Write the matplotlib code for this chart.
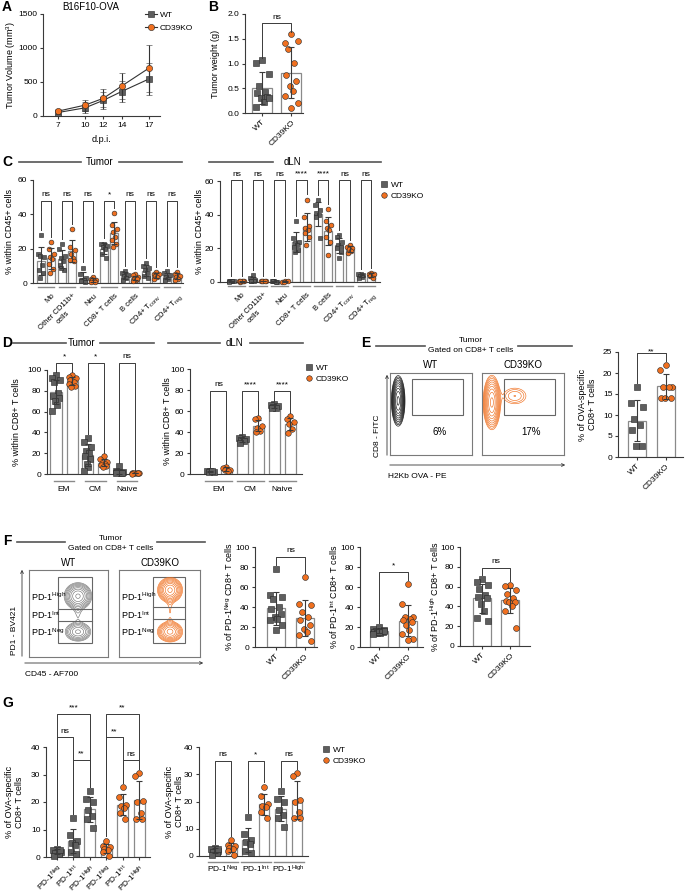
import numpy as np
import matplotlib
matplotlib.use('Agg')
import matplotlib.pyplot as plt
import matplotlib.ticker as mticker
from matplotlib.lines import Line2D
from matplotlib.patches import Rectangle, FancyArrowPatch

plt.rcParams['font.family'] = ['Liberation Sans', 'DejaVu Sans']
plt.rcParams['font.size'] = 6
plt.rcParams['mathtext.default'] = 'regular'
plt.rcParams['axes.linewidth'] = 0.8
plt.rcParams['axes.edgecolor'] = '#3a3a3a'
plt.rcParams['xtick.color'] = '#3a3a3a'
plt.rcParams['ytick.color'] = '#3a3a3a'
plt.rcParams['xtick.labelcolor'] = 'black'
plt.rcParams['ytick.labelcolor'] = 'black'
plt.rcParams['xtick.major.size'] = 2.5
plt.rcParams['ytick.major.size'] = 2.5
plt.rcParams['xtick.major.width'] = 0.8
plt.rcParams['ytick.major.width'] = 0.8
plt.rcParams['xtick.major.pad'] = 1.5
plt.rcParams['ytick.major.pad'] = 1.5
plt.rcParams['axes.labelpad'] = 2

# ---------------- data ----------------
days = [7, 10, 12, 14, 17]
vol_wt = [50, 120, 230, 360, 545]
vol_wt_sd = [30, 80, 120, 160, 235]
vol_ko = [70, 160, 260, 440, 705]
vol_ko_sd = [35, 80, 130, 190, 345]

weight_wt = [1.07, 1.02, 0.78, 0.55, 0.42, 0.40, 0.32, 0.30, 0.22, 0.13, 0.30]
weight_ko = [1.59, 1.41, 1.46, 1.29, 1.01, 0.77, 0.64, 0.54, 0.44, 0.34, 0.20, 0.10]

c_labels = ['Mo', 'Other CD11b+\ncells', 'Neu', 'CD8+ T cells', 'B cells',
            'CD4+ T$_{conv}$', 'CD4+ T$_{reg}$']
c_tumor_wt = [[28, 17, 15, 15.5, 10.6, 7.7, 5.8, 2.9],
              [22.8, 20, 15.5, 14.5, 12.6, 10.6, 7.7, 9],
              [9, 5, 3, 2, 1.5, 1, 0.8],
              [23, 22.5, 21.5, 21, 20, 17, 14.5],
              [6.8, 5.8, 4.8, 3.9, 2.9, 1.9],
              [11.6, 9.7, 8.7, 7.7, 5.8, 3.9, 2.9],
              [6.8, 5.8, 4.4, 3.5, 2.5, 1.5]]
c_tumor_ko = [[24, 20, 17, 15, 14, 11, 8, 6],
              [31.5, 21, 19, 17, 14.5, 13.5, 13],
              [3.5, 2.5, 1.9, 1.5, 1.0, 0.6, 0.8],
              [40.5, 34, 31.5, 30, 27, 25, 23, 21],
              [5, 4.4, 3.5, 2.5, 1.9, 1.0, 2.2],
              [6.2, 5.5, 5, 4.3, 3.3, 2.5],
              [6.2, 5.2, 4.3, 3.3, 2.5, 1.9]]
c_tumor_sig = ['ns', 'ns', 'ns', '*', 'ns', 'ns', 'ns']
c_dln_wt = [[0.6, 0.5, 0.4, 0.3, 0.5, 0.2],
            [4, 2.4, 1.4, 0.8, 0.4, 0.6],
            [0.3, 0.3, 0.2, 0.3, 0.2],
            [36.4, 26, 24, 23, 22, 21, 19, 18],
            [48.6, 45.6, 43, 41, 40, 38.4, 26],
            [28, 27, 24, 22, 21, 20, 18, 14],
            [5, 4.5, 4, 3.5, 3, 2.5]]
c_dln_ko = [[0.4, 0.3, 0.3, 0.2, 0.4, 0.3],
            [0.6, 0.5, 0.4, 0.3, 0.4],
            [0.3, 0.2, 0.3, 0.2],
            [49, 38.8, 33, 32, 31, 29, 27, 22],
            [43.3, 36, 34, 32, 31, 27, 24, 16],
            [22, 21, 20, 19.5, 18.5, 17],
            [5.5, 5, 4.5, 3.5, 2.5]]
c_dln_sig = ['ns', 'ns', 'ns', '****', '****', 'ns', 'ns']

d_labels = ['EM', 'CM', 'Naive']
d_tumor_wt = [[95, 92, 90, 88, 78, 75, 73, 70, 66, 61],
              [35, 31, 26, 22, 20, 17, 14, 10, 7, 3],
              [8, 3, 2, 1.5, 1, 1, 0.5]]
d_tumor_ko = [[95, 93, 92, 90, 88, 87, 85, 84],
              [17, 14, 12, 11, 10, 9, 8, 7],
              [1, 0.8, 0.6, 0.5, 0.7, 0.4, 0.9]]
d_tumor_sig = ['*', '*', 'ns']
d_dln_wt = [[3, 2.5, 2, 1.5, 2.8],
            [35, 34, 33, 32, 31, 30],
            [67, 65.5, 64.5, 64, 63, 63]]
d_dln_ko = [[7, 5.5, 4, 3.5, 3],
            [53, 52, 46, 44, 41, 40],
            [55, 52, 50, 48, 43, 39]]
d_dln_sig = ['ns', '****', '****']

e_wt = [16.6, 12.8, 11.8, 9, 7.6, 6.4, 2.6, 2.6]
e_ko = [21.8, 20.8, 16.6, 16.6, 16.6, 14, 14, 14]
e_sig = '**'
e_pct = ['6%', '17%']

f_subsets = ['Neg', 'Int', 'High']
f_wt = [[78, 52, 50, 48, 40, 38, 33, 30, 28, 27, 22, 17],
        [20, 18, 17, 16, 16, 15, 15, 14, 14, 13, 16, 15],
        [68, 65, 62, 58, 52, 50, 48, 42, 35, 28, 25]]
f_ko = [[70, 43, 42, 35, 30, 27, 22, 18, 15, 12, 6],
        [63, 43, 30, 30, 28, 27, 25, 22, 17, 13, 8, 7],
        [62, 61, 57, 53, 48, 45, 44, 44, 40, 35, 18]]
f_sig = ['ns', '*', 'ns']

g_wt = [[3, 2.5, 2, 1.5, 1, 0.5, 2.5],
        [14.3, 8, 6, 5, 4.5, 2, 1],
        [24, 21, 20, 17, 15, 14, 10.5]]
g_ko = [[6, 4, 3.5, 3, 2.5, 2, 0.5],
        [25.5, 22, 19, 18.5, 18, 16, 14],
        [30.5, 29.5, 20.5, 20, 16, 14, 14]]
g_left_pairs = [(0, 2, '***'), (0, 1, 'ns'), (1, 2, '**'),
                (3, 5, '**'), (3, 4, '**'), (4, 5, 'ns')]
g_right_sig = ['ns', '*', 'ns']

# flow plot blobs: (cx, cy, sx, sy, amplitude) in box units
e_wt_blobs = [(0.10, 0.66, 0.035, 0.13, 1.0)]
e_ko_blobs = [(0.12, 0.64, 0.045, 0.14, 1.0), (0.40, 0.72, 0.10, 0.07, 0.15)]
f_wt_blobs = [(0.62, 0.70, 0.085, 0.075, 1.0), (0.62, 0.29, 0.09, 0.06, 0.6),
              (0.62, 0.50, 0.04, 0.08, 0.12)]
f_ko_blobs = [(0.63, 0.77, 0.075, 0.07, 1.0), (0.63, 0.29, 0.08, 0.06, 0.8),
              (0.63, 0.53, 0.03, 0.13, 0.12)]

WT_C = '#5e5e5e'
KO_C = '#f07020'
EDGE = '#262626'
BAR_E = '#8a8a8a'
ERR_C = '#3a3a3a'
HEAD_C = '#555555'

W, H = 687, 893
fig = plt.figure(figsize=(W / 100, H / 100), dpi=100)


def px_axes(x0, y0, x1, y1):
    ax = fig.add_axes([x0 / W, 1 - y1 / H, (x1 - x0) / W, (y1 - y0) / H])
    ax.spines[['top', 'right']].set_visible(False)
    return ax


def ylab(ax, text, xpx, fs=6.5):
    # xpx: right edge of the rotated label, in figure pixels
    ax.set_ylabel(text, fontsize=fs)
    bb = ax.get_position()
    ax.yaxis.set_label_coords((xpx / W - bb.x0) / bb.width, 0.5)


def ftext(x, y, s, **kw):
    kw.setdefault('ha', 'center')
    kw.setdefault('va', 'center')
    fig.text(x / W, 1 - y / H, s, **kw)


def fline(x0, x1, y, lw=1.2, color=HEAD_C):
    fig.add_artist(Line2D([x0 / W, x1 / W], [1 - y / H, 1 - y / H],
                          color=color, lw=lw))


def farrow(x0, y0, x1, y1):
    fig.add_artist(FancyArrowPatch((x0 / W, 1 - y0 / H), (x1 / W, 1 - y1 / H),
                                   transform=fig.transFigure, arrowstyle='->',
                                   mutation_scale=5, lw=0.6, color='#333'))


def spread(n, width):
    pattern = np.array([0, -1, 1, -0.5, 0.5, -0.8, 0.8, -0.25, 0.25, -1, 1, 0])
    return pattern[np.arange(n) % len(pattern)] * width


def dot_bar(ax, x, vals, color, marker, width, ms):
    vals = np.asarray(vals, float)
    m, s = vals.mean(), vals.std(ddof=1)
    ax.bar(x, m, width=width, facecolor='white', edgecolor=BAR_E,
           linewidth=0.9, zorder=1)
    ax.scatter(x + spread(len(vals), width * 0.32), vals, s=ms, marker=marker,
               facecolor=color, edgecolor=EDGE, linewidth=0.4, zorder=3,
               clip_on=False)
    ax.errorbar(x, m, yerr=s, fmt='none', ecolor=ERR_C, elinewidth=0.8,
                capsize=2, capthick=0.8, zorder=4)
    return max(vals.max(), m + s)


def bracket(ax, x1, x2, top, y1, y2, label, pad, fs=6):
    ax.plot([x1, x1, x2, x2], [y1, top, top, y2], color='#3a3a3a', lw=0.7,
            clip_on=False, zorder=5)
    ax.text((x1 + x2) / 2, top + pad, label, ha='center', va='bottom',
            fontsize=fs, clip_on=False)


def grouped(ax, wt_groups, ko_groups, sig, off, width, ms, top, pad, gap):
    for i, (w, k, s) in enumerate(zip(wt_groups, ko_groups, sig)):
        hw = dot_bar(ax, i - off, w, WT_C, 's', width, ms)
        hk = dot_bar(ax, i + off, k, KO_C, 'o', width, ms)
        bracket(ax, i - off, i + off, top, hw + gap, hk + gap, s, pad)
    ax.set_xticks([])


def group_labels(ax, labels, half, line_y, text_y, rot=0, dx=0.0):
    trans = ax.get_xaxis_transform()
    for i, lab in enumerate(labels):
        ax.plot([i - half, i + half], [line_y, line_y], transform=trans,
                color='#8a8a8a', lw=1.0, clip_on=False)
        if rot:
            ax.text(i + dx, text_y, lab, transform=trans, rotation=rot,
                    ha='right', va='top', rotation_mode='anchor',
                    multialignment='center', fontsize=5.5)
        else:
            ax.text(i, text_y, lab, transform=trans, ha='center', va='center',
                    fontsize=6)


def legend_at(ax, x, y):
    handles = [Line2D([], [], marker='s', ls='None', mfc=WT_C, mec=EDGE,
                      mew=0.4, ms=4),
               Line2D([], [], marker='o', ls='None', mfc=KO_C, mec=EDGE,
                      mew=0.4, ms=4)]
    ax.legend(handles, ['WT', 'CD39KO'], loc='upper left',
              bbox_to_anchor=(x / W, 1 - y / H), bbox_transform=fig.transFigure,
              frameon=False, handlelength=0.8, handletextpad=0.4, fontsize=6,
              borderaxespad=0, borderpad=0, labelspacing=0.35)


def flow_box(rect, blobs, color, levels):
    x0, y0, x1, y1 = rect
    ax = fig.add_axes([x0 / W, 1 - y1 / H, (x1 - x0) / W, (y1 - y0) / H])
    gx, gy = np.meshgrid(np.linspace(0, 1, 260), np.linspace(0, 1, 260))
    z = np.zeros_like(gx)
    for cx, cy, sx, sy, a in blobs:
        z += a * np.exp(-((gx - cx) ** 2 / (2 * sx ** 2) + (gy - cy) ** 2 / (2 * sy ** 2)))
    ax.contour(gx, gy, z, levels=levels, colors=color, linewidths=0.45)
    ax.set_xlim(0, 1)
    ax.set_ylim(0, 1)
    ax.set_xticks([])
    ax.set_yticks([])
    for sp in ax.spines.values():
        sp.set_color('#7a7a7a')
        sp.set_linewidth(0.8)
    return ax


def two_bar(rect, xlim, wt, ko, ylim, yticks, ylabel, label_x, sig, top, pad,
            gap, ms=18, width=0.62):
    ax = px_axes(*rect)
    hw = dot_bar(ax, 0, wt, WT_C, 's', width, ms)
    hk = dot_bar(ax, 1, ko, KO_C, 'o', width, ms)
    bracket(ax, 0, 1, top, hw + gap, hk + gap, sig, pad)
    ax.set_xlim(*xlim)
    ax.set_ylim(*ylim)
    ax.set_yticks(yticks)
    ax.set_xticks([0, 1])
    ax.set_xticklabels(['WT', 'CD39KO'], rotation=45, ha='right',
                       rotation_mode='anchor', fontsize=6)
    ylab(ax, ylabel, label_x)
    return ax


# ---------------- panel letters ----------------
for letter, (x, y) in {'A': (7, 7), 'B': (213, 7), 'C': (7, 162), 'D': (7, 343),
                       'E': (366, 343), 'F': (7, 541), 'G': (8, 703)}.items():
    ftext(x, y, letter, fontsize=10, fontweight='bold')

# ---------------- A ----------------
ax = px_axes(43, 14, 160, 116)
ax.errorbar(days, vol_wt, yerr=vol_wt_sd, color='#333', marker='s', mfc=WT_C,
            mec=EDGE, mew=0.4, ms=4.5, lw=0.8, capsize=2, elinewidth=0.8, zorder=3)
ax.errorbar(days, vol_ko, yerr=vol_ko_sd, color='#333', marker='o', mfc=KO_C,
            mec=EDGE, mew=0.4, ms=4.5, lw=0.8, capsize=2, elinewidth=0.8, zorder=4)
ax.set_xlim(5.4, 18.2)
ax.set_xticks(days)
ax.set_ylim(0, 1500)
ax.set_yticks([0, 500, 1000, 1500])
ax.set_xlabel('d.p.i.', fontsize=6.5, labelpad=5)
ylab(ax, 'Tumor Volume (mm$^3$)', 18)
ftext(91, 7, 'B16F10-OVA', fontsize=7)
handles = [Line2D([], [], color='#333', lw=0.8, marker='s', mfc=WT_C, mec=EDGE,
                  mew=0.4, ms=4.5),
           Line2D([], [], color='#333', lw=0.8, marker='o', mfc=KO_C, mec=EDGE,
                  mew=0.4, ms=4.5)]
ax.legend(handles, ['WT', 'CD39KO'], loc='upper left',
          bbox_to_anchor=(145 / W, 1 - 11 / H), bbox_transform=fig.transFigure,
          frameon=False, handlelength=1.4, handletextpad=0.4, fontsize=6,
          borderaxespad=0, borderpad=0, labelspacing=0.6)

# ---------------- B ----------------
ax = two_bar((245, 14, 303, 113), (-0.59, 1.41), weight_wt, weight_ko, (0, 2),
             [0, 0.5, 1.0, 1.5, 2.0], 'Tumor weight (g)', 220, 'ns', 1.82,
             0.03, 0.04, width=0.69)
ax.yaxis.set_major_formatter(mticker.FormatStrFormatter('%.1f'))

# ---------------- C ----------------
ax = px_axes(33, 180, 183, 283)
grouped(ax, c_tumor_wt, c_tumor_ko, c_tumor_sig, 0.24, 0.38, 12, 48, 1.5, 3)
ax.set_xlim(-0.62, 6.52)
ax.set_ylim(0, 60)
ax.set_yticks([0, 20, 40, 60])
ylab(ax, '% within CD45+ cells', 14)
group_labels(ax, c_labels, 0.4, -0.04, -0.09, rot=45, dx=0.25)

ax = px_axes(220, 181, 380, 282)
grouped(ax, c_dln_wt, c_dln_ko, c_dln_sig, 0.245, 0.37, 12, 60.5, 1.5, 3)
ax.set_xlim(-0.76, 6.64)
ax.set_ylim(0, 60)
ax.set_yticks([0, 20, 40, 60])
ylab(ax, '% within CD45+ cells', 204)
group_labels(ax, c_labels, 0.4, -0.04, -0.09, rot=45, dx=0.25)
legend_at(ax, 381, 181)

fline(19, 81, 162)
ftext(100, 162, 'Tumor', fontsize=7)
fline(119, 182, 162)
fline(209, 273, 162)
ftext(292, 162, 'dLN', fontsize=7)
fline(310, 381, 162)

# ---------------- D ----------------
ax = px_axes(47, 370, 140, 474)
grouped(ax, d_tumor_wt, d_tumor_ko, d_tumor_sig, 0.254, 0.35, 16, 107, 2.5, 3)
ax.set_xlim(-0.54, 2.41)
ax.set_ylim(0, 100)
ax.set_yticks([0, 20, 40, 60, 80, 100])
ylab(ax, '% within CD8+ T cells', 21)
group_labels(ax, d_labels, 0.32, -0.067, -0.145)

ax = px_axes(190, 369, 302, 474)
grouped(ax, d_dln_wt, d_dln_ko, d_dln_sig, 0.25, 0.34, 16, 79.5, 2.5, 3)
ax.set_xlim(-0.89, 2.61)
ax.set_ylim(0, 100)
ax.set_yticks([0, 20, 40, 60, 80, 100])
ylab(ax, '% within CD8+ T cells', 172)
group_labels(ax, d_labels, 0.42, -0.067, -0.145)
legend_at(ax, 306, 364)

fline(13, 66, 343)
ftext(82, 343, 'Tumor', fontsize=7)
fline(100, 154, 343)
fline(168, 220, 343)
ftext(234, 343, 'dLN', fontsize=7)
fline(250, 303, 343)

# ---------------- E ----------------
fline(376, 425, 346)
fline(518, 572, 346)
ftext(471, 341, 'Tumor', fontsize=6)
ftext(471, 351, 'Gated on CD8+ T cells', fontsize=6)
ftext(431, 365, 'WT', fontsize=7)
ftext(523, 365, 'CD39KO', fontsize=7)
e_levels = np.geomspace(0.06, 0.92, 10)
for rect, blobs, col, pct in [((390, 373, 472, 455), e_wt_blobs, '#111111', e_pct[0]),
                              ((482, 373, 564, 455), e_ko_blobs, KO_C, e_pct[1])]:
    fax = flow_box(rect, blobs, col, e_levels)
    fax.add_patch(Rectangle((0.27, 0.49), 0.62, 0.44, fill=False,
                            edgecolor='#666', lw=0.8))
    fax.text(0.6, 0.28, pct, ha='center', va='center', fontsize=7)
farrow(387, 458, 387, 372)
farrow(387, 465, 568, 465)
ftext(378, 436, 'CD8 - FITC', rotation=90, fontsize=6)
ftext(388, 476, 'H2Kb OVA - PE', ha='left', fontsize=6)

two_bar((618, 352, 683, 457), (-0.655, 1.586), e_wt, e_ko, (0, 25),
        [0, 5, 10, 15, 20, 25], '% of OVA-specific\nCD8+ T cells', 597, e_sig,
        24.8, -0.6, 1.0)

# ---------------- F ----------------
fline(17, 65, 542)
fline(157, 205, 542)
ftext(111, 538, 'Tumor', fontsize=6)
ftext(111, 548, 'Gated on CD8+ T cells', fontsize=6)
ftext(69, 563, 'WT', fontsize=7)
ftext(160, 563, 'CD39KO', fontsize=7)
f_levels = np.geomspace(0.12, 0.95, 9)
for rect, blobs, col, gx0, gx1, mid in [((29, 570, 108, 657), f_wt_blobs, '#777777', 0.37, 0.80, (0.55, 0.41)),
                                        ((119, 570, 200, 657), f_ko_blobs, KO_C, 0.42, 0.82, (0.57, 0.44))]:
    fax = flow_box(rect, blobs, col, f_levels)
    fax.add_patch(Rectangle((gx0, 0.16), gx1 - gx0, 0.76, fill=False,
                            edgecolor='#666', lw=0.8))
    for yy in mid:
        fax.plot([gx0, gx1], [yy, yy], color='#666', lw=0.8)
    for yy, sub in zip([0.28, 0.48, 0.69], f_subsets):
        fax.text(0.03, yy, 'PD-1$^{%s}$' % sub, ha='left', va='center',
                 fontsize=6.5)
farrow(22, 659, 22, 567)
farrow(22, 663, 206, 663)
ftext(15, 630, 'PD1 - BV421', rotation=90, fontsize=6)
ftext(25, 674, 'CD45 - AF700', ha='left', fontsize=6)

f_rects = [(255, 547, 317, 647), (360, 547, 423, 647), (460, 547, 530, 646)]
f_xlims = [(-0.72, 1.41), (-0.64, 1.53), (-0.79, 1.71)]
f_label_x = [235, 340, 441]
f_tops = [90, 75, 79]
for rect, xl, lx, wt, ko, sub, sig, top in zip(f_rects, f_xlims, f_label_x, f_wt,
                                               f_ko, f_subsets, f_sig, f_tops):
    two_bar(rect, xl, wt, ko, (0, 100), [0, 20, 40, 60, 80, 100],
            '%% of PD-1$^{%s}$ CD8+ T cells' % sub, lx, sig, top, 2.5, 4)

# ---------------- G ----------------
ax = px_axes(46, 747, 150, 857)
g_vals = g_wt + g_ko
g_tops_h = []
for i, vals in enumerate(g_vals):
    if i < 3:
        g_tops_h.append(dot_bar(ax, i, vals, WT_C, 's', 0.67, 18))
    else:
        g_tops_h.append(dot_bar(ax, i, vals, KO_C, 'o', 0.67, 18))
for (i, j, lab), top in zip(g_left_pairs, [52, 43.6, 35.3, 52, 43.6, 35.3]):
    bracket(ax, i, j, top, g_tops_h[i] + 1.5, g_tops_h[j] + 1.5, lab, 0.8)
ax.set_xlim(-0.67, 5.67)
ax.set_ylim(0, 40)
ax.set_yticks([0, 10, 20, 30, 40])
ax.set_xticks(range(6))
ax.set_xticklabels(['PD-1$^{%s}$' % s for s in f_subsets] * 2, rotation=45,
                   ha='right', rotation_mode='anchor', fontsize=6)
ylab(ax, '% of OVA-specific\nCD8+ T cells', 24)

ax = px_axes(199, 747, 308, 856)
grouped(ax, g_wt, g_ko, g_right_sig, 0.245, 0.33, 18, 35, 0.8, 1.5)
ax.set_xlim(-0.73, 2.58)
ax.set_ylim(0, 40)
ax.set_yticks([0, 10, 20, 30, 40])
ylab(ax, '% of OVA-specific\nCD8+ T cells', 184)
group_labels(ax, ['PD-1$^{%s}$' % s for s in f_subsets], 0.45, -0.055, -0.125)
legend_at(ax, 323, 746)

fig.savefig('out.png', dpi=100)
